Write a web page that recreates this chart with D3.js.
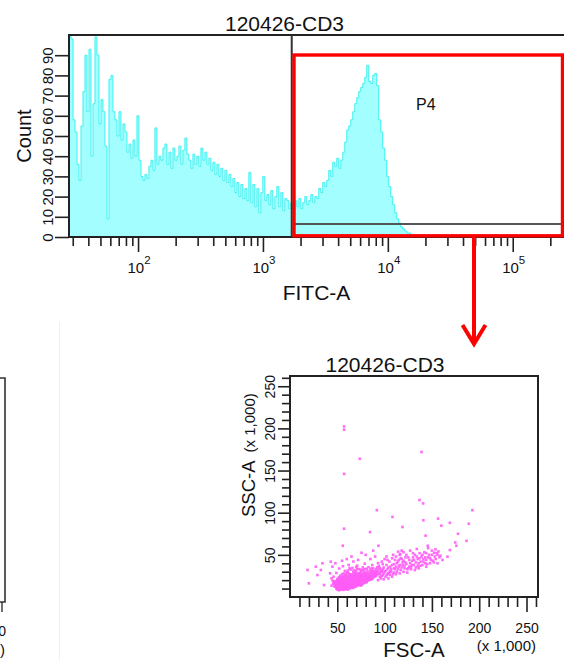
<!DOCTYPE html>
<html><head><meta charset="utf-8">
<script src="https://cdn.jsdelivr.net/npm/d3@7"></script>
<style>
html,body{margin:0;padding:0;background:#fff;}
svg{display:block;font-family:"Liberation Sans",Arial,sans-serif;}
</style></head><body>
<svg id="c" width="564" height="661"></svg>
<script>
// ---------------- DATA ----------------
const histTitle = "120426-CD3";
const histXLabel = "FITC-A";
const histYLabel = "Count";
const gateLabel = "P4";
// log10 of first bin edge and bin width (decades)
const histLogStart = 1.4472;
const histLogStep = 0.016;
const histCounts = [
 112, 98, 58, 52, 36, 28, 55, 72, 90, 62,
 93, 40, 66, 99, 90, 56, 68, 62, 45, 9,
 78, 80, 62, 58, 50, 62, 48, 56, 52, 42,
 46, 39, 48, 40, 60, 38, 30, 28, 31, 29,
 35, 38, 33, 54, 36, 40, 38, 44, 46, 36,
 42, 34, 44, 38, 40, 45, 36, 43, 49, 41,
 38, 34, 41, 36, 40, 35, 44, 38, 42, 36,
 39, 33, 37, 31, 36, 30, 34, 28, 33, 27,
 31, 25, 29, 22, 27, 20, 26, 19, 24, 18,
 32, 17, 26, 15, 24, 12, 22, 30, 18, 21,
 16, 23, 14, 20, 25, 15, 22, 13, 19, 18,
 14, 17, 13, 18, 15, 19, 14, 17, 20, 16,
 18, 21, 17, 20, 19, 24, 22, 27, 25, 28,
 33, 30, 37, 35, 39, 34, 38, 42, 47, 53,
 55, 58, 62, 66, 69, 72, 74, 76, 79, 85,
 77, 76, 80, 81, 75, 58, 52, 44, 38, 30,
 25, 20, 16, 12, 9, 7, 5, 4, 3, 2,
 2, 1, 1, 1, 0, 1, 0, 1, 0, 0
];
const histYTicks = [0,10,20,30,40,50,60,70,80,90];
const histXMajor = [1e2,1e3,1e4,1e5];
const histXMajorExp = ["2","3","4","5"];
const histXMinor = [30,40,50,60,70,80,90,200,300,400,500,600,700,800,900,
  2000,3000,4000,5000,6000,7000,8000,9000,20000,30000,40000,50000,60000,70000,80000,90000,200000];
const histGateRange = [1700, 262144];

const scatTitle = "120426-CD3";
const scatXLabel = "FSC-A";
const scatYLabel = "SSC-A";
const scatUnit = "(x 1,000)";
const scatMajor = [50,100,150,200,250];
const scatMinor = [10,20,30,40,60,70,80,90,110,120,130,140,160,170,180,190,210,220,230,240,260];
// events: [FSC-A, SSC-A] in units of 1,000
const scatOutliers = [
 [57.2,202.3],[57.2,198.4],[73.8,164],[57.2,146],[139,172],[136.9,115],[140.7,111],[91.8,103],[108.3,95],
 [141,91],[156.5,93],[192.8,103],[169,88],[160,84.6],[189,87],[118.9,83],[57.2,81],[84.6,77],[177.6,75],
 [143.3,72.8],[174.6,64.7],[186.6,66.6],[55.8,60.8],[93.5,60.8],[145.6,60.8],[175.9,60.8],[169,55.7],
 [153.8,56.5],[152.4,52.5],[75.6,52.5],[114.3,53.8],[116.4,51],[166.5,47.8],[161.2,43.9],[155.9,40],
 [18.5,32],[19.9,16.2],[27.3,36],[29,26],[34.3,40],[36,14.2],[32.6,32],[43.1,41.9],[44.9,36],[42.4,28.1],[43.9,22.2],
 [48,40],[60,45],[65,48],[72,44],[85,45],[80,50],[90,48],[55,43],[88,55]
];
const scatCore = [
 [50,9],[52,8],[54,9.5],[56,8.5],[58,9],[60,10],[53,10.5],[57,10.8],[61,8.8],[63,10.4],
 [48,12],[50,11.5],[52,12.5],[54,11.8],[56,12.2],[58,11.4],[60,12.6],[62,11.9],[64,12.3],[66,11.7],[68,12.8],[70,13],[49,13.5],[55,13.2],[59,13.6],[63,13.4],[67,13.7],
 [47,15],[49,14.6],[51,15.3],[53,14.4],[55,15.6],[57,14.9],[59,15.4],[61,14.7],[63,15.8],[65,15.1],[67,14.8],[69,15.5],[71,15.2],[73,15.9],[75,16.2],[52,16.5],[58,16.8],[64,16.6],[70,16.9],[76,14.9],
 [48,17.5],[50,18.2],[52,17.8],[54,18.6],[56,17.4],[58,18.3],[60,17.7],[62,18.9],[64,18.1],[66,17.6],[68,18.7],[70,18.2],[72,17.9],[74,18.5],[76,19],[78,18.4],[80,19.2],[82,19.6],[55,19.4],[61,19.6],[67,19.3],[73,19.7],
 [50,21],[52,20.4],[54,21.5],[56,20.8],[58,21.7],[60,20.5],[62,21.3],[64,20.9],[66,21.8],[68,20.6],[70,21.4],[72,20.7],[74,21.6],[76,20.9],[78,21.9],[80,21.2],[82,22.3],[84,21.7],[86,22.8],[88,23.1],[57,22.6],[65,22.9],[73,22.4],
 [52,23.5],[55,24.2],[58,23.8],[60,24.6],[62,23.4],[64,24.9],[66,23.7],[68,24.3],[70,25.1],[72,23.9],[74,24.7],[76,25.3],[78,24.2],[80,25.5],[82,24.8],[84,25.9],[86,25.2],[88,26.1],[90,25.7],[92,26.8],
 [55,27],[59,26.6],[62,27.8],[65,26.9],[68,28.2],[71,27.4],[74,28.6],[77,27.7],[80,28.9],[83,28.1],[86,29.3],[89,28.5],[92,29.7],[95,29],[70,29.8],[78,30.2],[60,29.1],
 [58,31],[64,32.5],[69,31.6],[73,33.2],[77,31.9],[81,33.6],[85,32.4],[88,34.1],[91,32.8],[94,33.9],[96,31.5],[66,34.5],[83,35.3],
 [56,36.5],[62,38],[71,37.2],[79,39.5],[87,37.8],[93,40.2],[67,42.1],[52,33.8],[49,28.5],[46,24],[45,19.5],[46,16],[44,13.5],
 [51,10.2],[55,10.6],[59,11],[62,10.1],[65,10.9],[57,12.9],[61,13.1],[65,13.9],[69,14.2],[72,14.5],[74,15.1],[53,16],[56,16.3],[60,16.1],[62,16.4],[66,16.2],[68,16.6],[72,16.4],[74,17.2],[78,17.3],
 [59,19.9],[63,20.1],[69,19.8],[71,20],[75,20.3],[77,19.8],[79,20.6],[81,20.4],[83,21],[85,22.1],[61,22.8],[67,22.2],[69,23.3],[71,22.6],[75,23],[77,23.4],[79,23.2],[81,23.8],[83,23.3],[85,24],[87,24.4],
 [63,25.8],[67,25.5],[73,26.2],[79,26.5],[85,27.2],[89,27],[91,28],[82,30.8],[87,31.2],[75,30.5],
 [49,10],[51,9.2],[53,8.7],[55,9.8],[57,9.4],[59,10.3],[61,9.6],[63,11.2],[65,11.5],[67,10.8],
 [47,12.5],[51,12.9],[53,13.3],[57,11.6],[61,11.8],[65,12.6],[69,12.2],[71,13.8],[73,14],[75,13.5],
 [46,16.8],[48,15.8],[50,16.1],[54,15.9],[58,15.2],[60,14.3],[62,15],[66,15.4],[68,14.3],[70,15.9],[72,15.6],[74,16.4],[77,15.7],[79,16.8],[81,17.5],
 [47,18.6],[49,19.1],[51,19.6],[53,18.9],[57,19.1],[59,18.6],[63,18.4],[65,19.5],[69,18.8],[71,18.6],[75,18.2],[77,19.4],[79,18.8],[81,18.6],[83,19.8],[85,20.4],[87,21.2],
 [51,22.2],[53,21.9],[55,22.7],[59,21.2],[61,20.2],[63,22.4],[67,21.1],[69,21.8],[71,22.1],[73,21.3],[75,21.9],[77,22.1],[79,22.6],[81,22.8],[83,22.5],[87,22.9],[89,24.1],[91,24.8],
 [53,25.2],[57,24.6],[59,25.4],[61,24.1],[63,24.4],[65,25],[67,24.8],[69,25.6],[71,24.5],[73,24.9],[75,25.8],[77,26.1],[81,25.9],[83,26.3],[87,26.7],[89,25.6],[93,27.5],[95,27.2],
 [57,28],[61,28.5],[63,27.1],[67,28.7],[69,27.3],[73,28.1],[75,27.5],[79,28.4],[81,27.8],[85,29.9],[87,28.9],[91,30.4],[93,31.2],[97,30.1],
 [61,31.4],[67,31.2],[71,33.1],[75,32.4],[79,32.9],[86,33.8],[89,30.8],[92,35.2],[95,34.6],[98,33],[63,34.2],[70,35.6],[77,35.1]
];
const scatTail = [
 [96,22],[98,26],[100,30],[101,24],[103,33],[104,28],[106,36],[107,30],[109,27],[110,39],[111,33],[113,30],[114,42],[115,36],[117,32],[118,45],[119,38],[121,34],[122,41],[124,29],
 [125,47],[126,36],[128,33],[129,43],[131,38],[132,50],[133,35],[135,45],[136,40],[138,37],[139,48],[141,42],[142,53],[144,44],[145,39],[147,50],[148,46],[150,55],[151,43],[153,48],
 [155,52],[158,47],[99,35],[102,38],[105,42],[108,46],[112,48],[116,50],[120,53],[97,31],[94,37],[97,42],[100,45],[104,22],[108,24],[112,27],[116,28],[120,30],[124,33],[128,36],
 [132,32],[136,34],[140,38],[144,36],[148,40],[152,41],[127,55],[134,57],[146,58],[102,48],[123,50],[137,52],[111,44],[119,41],[103,27],[106,31],[110,34],[115,44],[130,47],[143,47],
 [93,20],[95,24],[99,21],
 [97,25],[99,28],[101,31],[102,26],[104,35],[105,29],[107,33],[108,38],[110,29],[112,36],[113,40],[114,33],[116,38],[117,46],[118,35],[120,43],[121,37],[123,39],[125,34],[126,44],
 [127,40],[129,38],[130,52],[131,44],[133,41],[134,48],[135,37],[137,46],[138,42],[140,50],[141,45],[143,40],[144,52],[146,47],[149,44],[150,50],[154,45],[156,50],[157,54],[159,49],
 [109,50],[122,47],[118,55],[106,26],[98,39],[103,44]
];

// ---------------- DRAW ----------------
const svg = d3.select("#c");
const FONT = '"Liberation Sans", Arial, sans-serif';
svg.append("rect").attr("width",564).attr("height",661).attr("fill","#fff");

// faint separator of neighbouring panel
svg.append("line").attr("x1",59.5).attr("x2",59.5).attr("y1",322).attr("y2",661)
  .attr("stroke","#f1f1f1").attr("stroke-width",1);

// ===== Histogram =====
const hL = 69, hR = 565, hT = 35, hB = 237;
const xH = d3.scaleLog().domain([28, 262144]).range([hL, hR]);
const yH = d3.scaleLinear().domain([0, 100]).range([hB, hT]);

svg.append("clipPath").attr("id","hclip").append("rect")
  .attr("x",hL).attr("y",hT).attr("width",hR-hL).attr("height",hB-hT);

const binPts = histCounts.map((c,i)=>({e: Math.pow(10, histLogStart + i*histLogStep), c}));
binPts.push({e: Math.pow(10, histLogStart + histCounts.length*histLogStep), c: histCounts[histCounts.length-1]});
const area = d3.area().curve(d3.curveStepAfter)
  .x(d=>xH(d.e)).y0(yH(0)).y1(d=>yH(Math.min(d.c,100)));
const line = d3.line().curve(d3.curveStepAfter)
  .x(d=>xH(d.e)).y(d=>yH(Math.min(d.c,100)));
const hg = svg.append("g").attr("clip-path","url(#hclip)");
hg.append("path").datum(binPts).attr("d",area).attr("fill","#a3ffff");
hg.append("path").datum(binPts).attr("d",line).attr("fill","none")
  .attr("stroke","#3ff0f0").attr("stroke-width",1);

// frame
svg.append("rect").attr("x",hL).attr("y",hT).attr("width",hR-hL).attr("height",hB-hT)
  .attr("fill","none").attr("stroke","#222").attr("stroke-width",2);

// gate marker (black)
const gX = xH(histGateRange[0]);
svg.append("line").attr("x1",gX).attr("x2",gX).attr("y1",hT).attr("y2",hB)
  .attr("stroke","#333").attr("stroke-width",2);
svg.append("line").attr("x1",gX).attr("x2",hR).attr("y1",224).attr("y2",224)
  .attr("stroke","#555").attr("stroke-width",2);

// x axis: minor & major ticks
const axMinor = d3.axisBottom(xH).tickValues(histXMinor).tickSize(9).tickFormat("");
const axMajor = d3.axisBottom(xH).tickValues(histXMajor).tickSize(15).tickFormat("");
[axMinor, axMajor].forEach(ax=>{
  const g = svg.append("g").attr("transform",`translate(0,${hB})`).call(ax);
  g.select(".domain").remove();
  g.selectAll(".tick line").attr("stroke","#222").attr("stroke-width",1.6);
});
histXMajor.forEach((v,i)=>{
  const t = svg.append("text").attr("x",xH(v)+1).attr("y",273)
    .attr("text-anchor","middle").attr("font-size",15).attr("fill","#111");
  t.append("tspan").text("10");
  t.append("tspan").attr("dy",-9).attr("font-size",11.5).text(histXMajorExp[i]);
});

// y axis
const ayH = d3.axisLeft(yH).tickValues(histYTicks).tickSize(14);
const gyH = svg.append("g").attr("transform",`translate(${hL},0)`).call(ayH);
gyH.select(".domain").remove();
gyH.selectAll(".tick line").attr("stroke","#222").attr("stroke-width",1.6);
gyH.selectAll(".tick text").attr("transform","rotate(-90)")
  .attr("x",0).attr("y",-16).attr("dy",0).attr("text-anchor","middle")
  .attr("font-size",15).attr("font-family",FONT).attr("fill","#111");

// labels
svg.append("text").attr("x",284.5).attr("y",31).attr("text-anchor","middle")
  .attr("font-size",21).attr("fill","#111").text(histTitle);
svg.append("text").attr("x",316.5).attr("y",300).attr("text-anchor","middle")
  .attr("font-size",21).attr("fill","#111").text(histXLabel);
svg.append("text").attr("transform","translate(31,136) rotate(-90)").attr("text-anchor","middle")
  .attr("font-size",20).attr("fill","#111").text(histYLabel);
svg.append("text").attr("x",416).attr("y",110).attr("font-size",16).attr("fill","#111").text(gateLabel);

// red highlight rectangle over the gate
svg.append("rect").attr("x",gX+2.3).attr("y",55).attr("width",562.5-(gX+2.3)).attr("height",235.8-55)
  .attr("fill","none").attr("stroke","#ff0000").attr("stroke-width",3.4);
// red arrow
svg.append("line").attr("x1",474).attr("x2",474).attr("y1",236).attr("y2",343)
  .attr("stroke","#ff0000").attr("stroke-width",4);
svg.append("path").attr("d","M462.5,325 L474,344 L485.5,325").attr("fill","none")
  .attr("stroke","#ff0000").attr("stroke-width",4).attr("stroke-linejoin","miter");

// ===== Scatter =====
const sL = 290, sR = 538, sT = 376, sB = 597;
const xS = d3.scaleLinear().domain([0, 262.144]).range([sL, sR]);
const yS = d3.scaleLinear().domain([0, 262.144]).range([sB, sT]);

svg.append("clipPath").attr("id","sclip").append("rect")
  .attr("x",sL).attr("y",sT).attr("width",sR-sL).attr("height",sB-sT);
const pts = scatOutliers.concat(scatTail, scatCore);
svg.append("g").attr("clip-path","url(#sclip)").selectAll("rect").data(pts).join("rect")
  .attr("x",d=>xS(d[0])-1.3).attr("y",d=>yS(d[1])-1.3)
  .attr("width",2.6).attr("height",2.6).attr("fill","#ff5cf6").attr("opacity",0.9);

svg.append("rect").attr("x",sL).attr("y",sT).attr("width",sR-sL).attr("height",sB-sT)
  .attr("fill","none").attr("stroke","#222").attr("stroke-width",2);

const sxMinor = d3.axisBottom(xS).tickValues(scatMinor).tickSize(10).tickFormat("");
const sxMajor = d3.axisBottom(xS).tickValues(scatMajor).tickSize(15).tickFormat(d=>d);
[sxMinor, sxMajor].forEach(ax=>{
  const g = svg.append("g").attr("transform",`translate(0,${sB})`).call(ax);
  g.select(".domain").remove();
  g.selectAll(".tick line").attr("stroke","#222").attr("stroke-width",1.6);
  g.selectAll(".tick text").attr("y",36).attr("dy",0).attr("font-size",14)
    .attr("font-family",FONT).attr("fill","#111");
});
const syMinor = d3.axisLeft(yS).tickValues(scatMinor).tickSize(8).tickFormat("");
const syMajor = d3.axisLeft(yS).tickValues(scatMajor).tickSize(12).tickFormat(d=>d);
[syMinor, syMajor].forEach(ax=>{
  const g = svg.append("g").attr("transform",`translate(${sL},0)`).call(ax);
  g.select(".domain").remove();
  g.selectAll(".tick line").attr("stroke","#222").attr("stroke-width",1.6);
  g.selectAll(".tick text").attr("transform","rotate(-90)")
    .attr("x",0).attr("y",-15).attr("dy",0).attr("text-anchor","middle")
    .attr("font-size",14).attr("font-family",FONT).attr("fill","#111");
});

svg.append("text").attr("x",385).attr("y",372).attr("text-anchor","middle")
  .attr("font-size",21).attr("fill","#111").text(scatTitle);
svg.append("text").attr("x",414).attr("y",657).attr("text-anchor","middle")
  .attr("font-size",20.5).attr("fill","#111").text(scatXLabel);
svg.append("text").attr("x",536).attr("y",651).attr("text-anchor","end")
  .attr("font-size",15).attr("fill","#111").text(scatUnit);
const yl = svg.append("text").attr("transform","translate(255,517) rotate(-90)")
  .attr("text-anchor","start").attr("font-size",18.5).attr("fill","#111");
yl.append("tspan").text(scatYLabel);
yl.append("tspan").attr("dx",8).attr("font-size",15).text(scatUnit);

// ===== neighbouring panel, cut off at the left edge =====
svg.append("path").attr("d","M0,378 L5,378 L5,602 L0,602").attr("fill","none")
  .attr("stroke","#333").attr("stroke-width",1.6);
svg.append("line").attr("x1",2).attr("x2",2).attr("y1",602).attr("y2",612)
  .attr("stroke","#333").attr("stroke-width",1.4);
svg.append("text").attr("x",6).attr("y",636).attr("text-anchor","end")
  .attr("font-size",14).attr("fill","#111").text(scatMajor[scatMajor.length-1]);
svg.append("text").attr("x",5).attr("y",655).attr("text-anchor","end")
  .attr("font-size",15).attr("fill","#111").text(scatUnit);
</script>
</body></html>
